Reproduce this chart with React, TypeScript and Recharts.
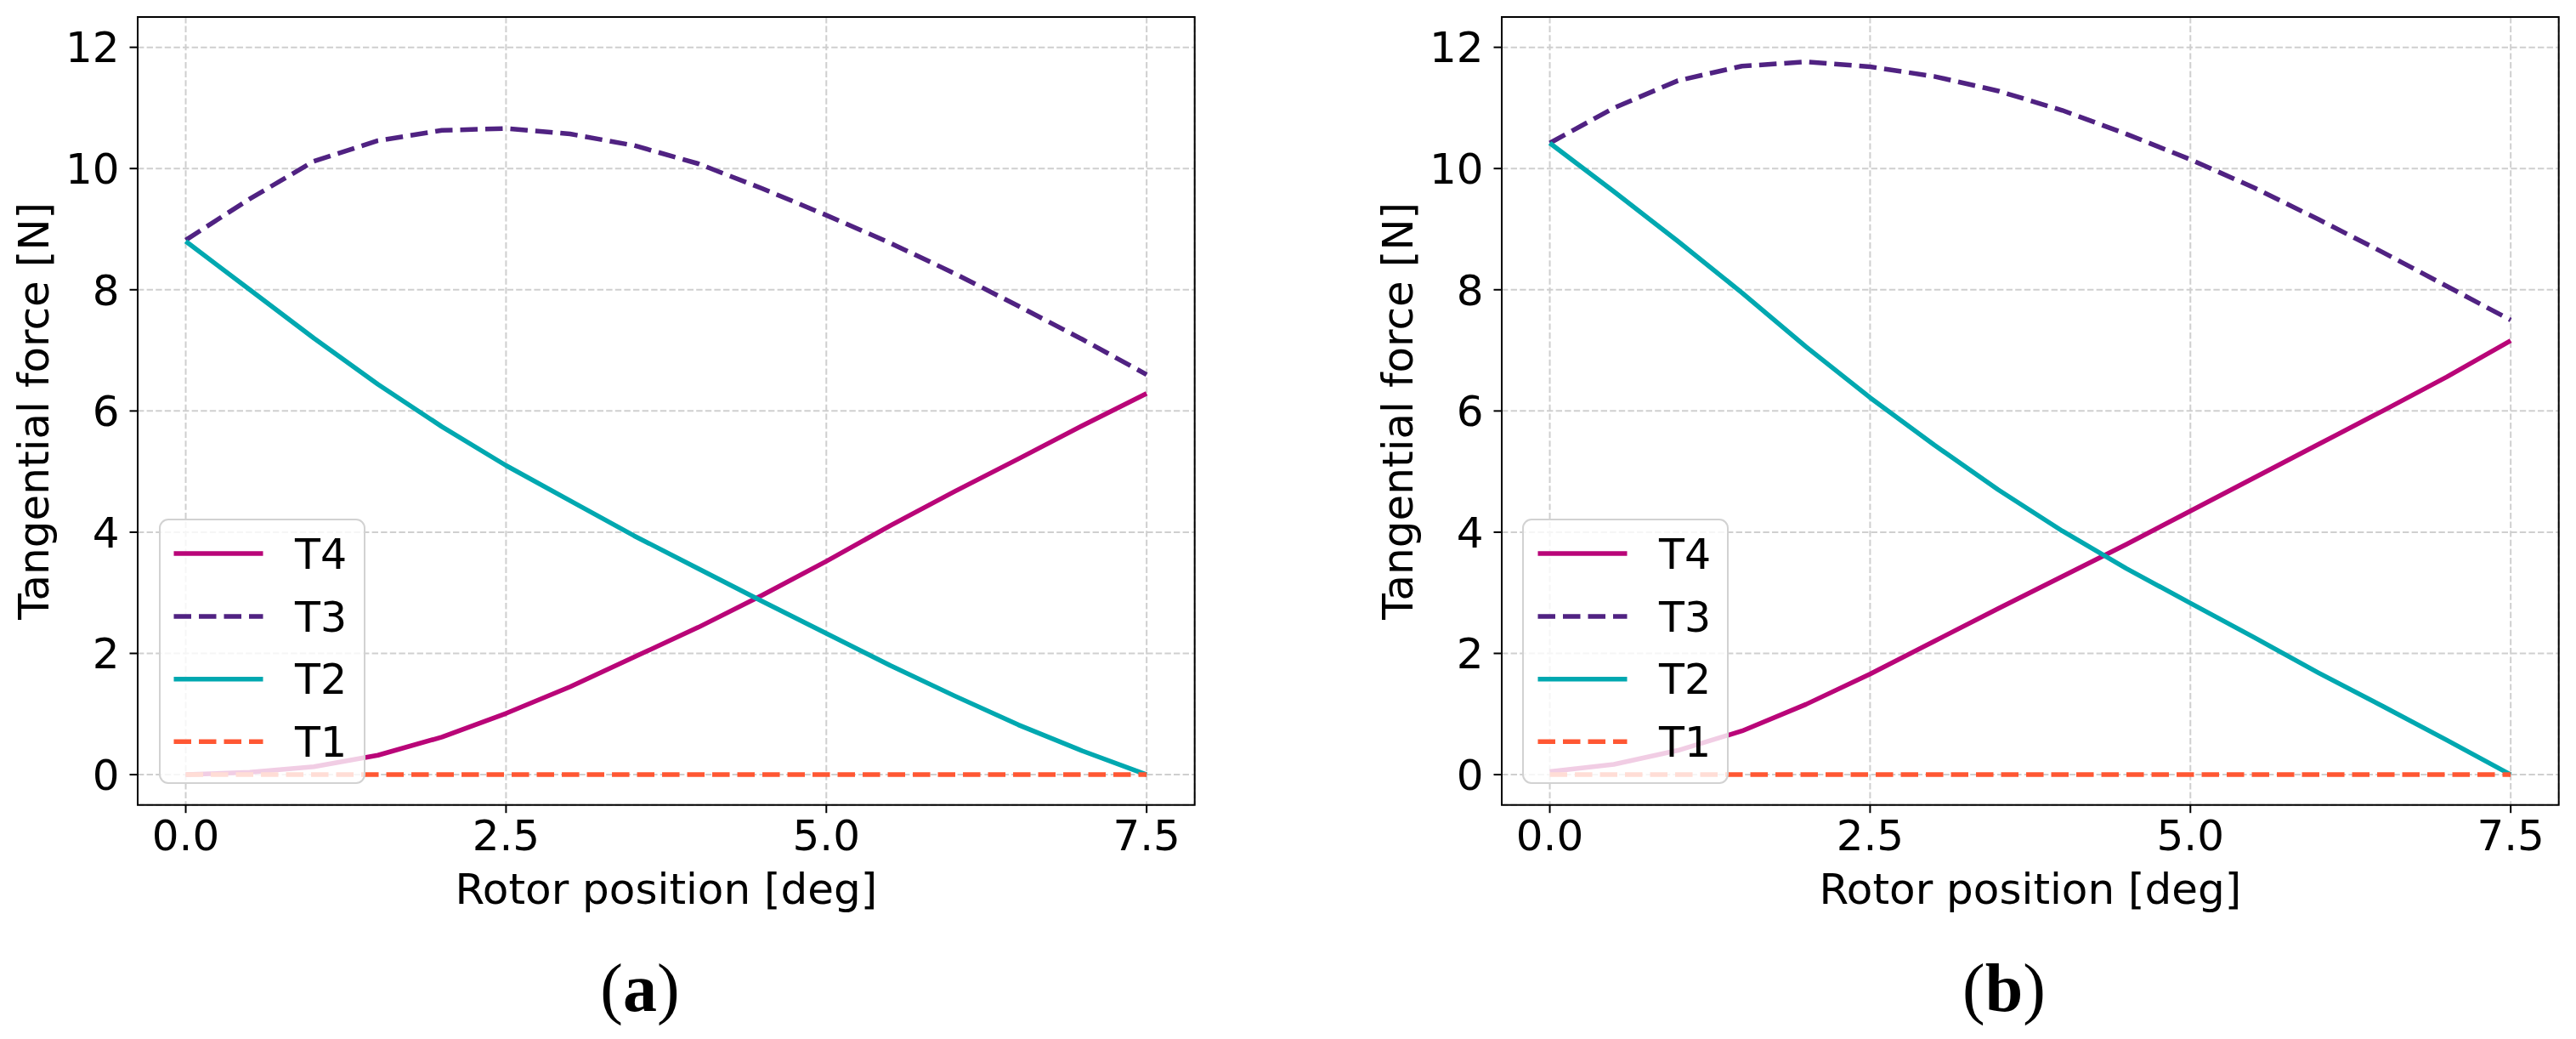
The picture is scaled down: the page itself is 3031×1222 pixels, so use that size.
import React from 'react';
import {
  LineChart,
  Line,
  XAxis,
  YAxis,
  CartesianGrid,
  Legend,
  ReferenceArea,
} from 'recharts';

// rotor position [deg]
const positions = [0, 0.5, 1, 1.5, 2, 2.5, 3, 3.5, 4, 4.5, 5, 5.5, 6, 6.5, 7, 7.5];

// panel (a)
const t4a = [0.0, 0.04, 0.13, 0.32, 0.62, 1.01, 1.45, 1.94, 2.43, 2.96, 3.52, 4.11, 4.67, 5.21, 5.76, 6.29];
const t3a = [8.82, 9.5, 10.12, 10.46, 10.63, 10.66, 10.57, 10.38, 10.08, 9.67, 9.23, 8.77, 8.27, 7.73, 7.18, 6.6];
const t2a = [8.8, 8.0, 7.2, 6.44, 5.74, 5.1, 4.52, 3.94, 3.4, 2.86, 2.33, 1.8, 1.3, 0.82, 0.39, 0.0];
const t1a = [0, 0, 0, 0, 0, 0, 0, 0, 0, 0, 0, 0, 0, 0, 0, 0];

// panel (b)
const t4b = [0.05, 0.17, 0.4, 0.72, 1.16, 1.66, 2.2, 2.74, 3.27, 3.8, 4.35, 4.9, 5.45, 6.0, 6.56, 7.16];
const t3b = [10.42, 11.0, 11.45, 11.69, 11.76, 11.68, 11.52, 11.28, 10.96, 10.57, 10.15, 9.68, 9.16, 8.62, 8.06, 7.5];
const t2b = [10.42, 9.62, 8.8, 7.95, 7.06, 6.22, 5.44, 4.7, 4.02, 3.4, 2.83, 2.26, 1.68, 1.13, 0.57, 0.0];
const t1b = [0, 0, 0, 0, 0, 0, 0, 0, 0, 0, 0, 0, 0, 0, 0, 0];

const xTicks = [0, 2.5, 5, 7.5];
const yTicks = [0, 2, 4, 6, 8, 10, 12];
const xDomain: [number, number] = [-0.375, 7.875];
const yDomain: [number, number] = [-0.5, 12.5];

const series = [
  { key: 'T4', color: '#b90578', dash: undefined },
  { key: 'T3', color: '#502282', dash: '20.5 9' },
  { key: 'T2', color: '#00a8b0', dash: undefined },
  { key: 'T1', color: '#ff5733', dash: '20.5 9' },
];

const FONT = '"DejaVu Sans", sans-serif';
const CHART_W = 1426;
const CHART_H = 1222;
const LW = 5.5;

function buildRows(t1: number[], t2: number[], t3: number[], t4: number[]) {
  return positions.map((pos, i) => ({ pos, T1: t1[i], T2: t2[i], T3: t3[i], T4: t4[i] }));
}

const rowsA = buildRows(t1a, t2a, t3a, t4a);
const rowsB = buildRows(t1b, t2b, t3b, t4b);

function LegendBox() {
  const rowY = [41, 115, 188.7, 262.3];
  return (
    <div
      style={{
        position: 'relative',
        width: 243,
        height: 312,
        boxSizing: 'border-box',
        border: '2.5px solid #d2d2d2',
        borderRadius: 11,
        background: 'rgba(255,255,255,0.8)',
      }}
    >
      <svg width={243} height={312} style={{ position: 'absolute', left: -2.5, top: -2.5 }}>
        {series.map((s, i) => (
          <g key={s.key}>
            <line
              x1={18.5}
              x2={123.5}
              y1={rowY[i]}
              y2={rowY[i]}
              stroke={s.color}
              strokeWidth={LW}
              strokeDasharray={s.dash}
            />
            <text x={161} y={rowY[i] + 17.5} fontSize={49} fontFamily={FONT} fill="#000">
              {s.key}
            </text>
          </g>
        ))}
      </svg>
    </div>
  );
}

function Panel({ rows, left }: { rows: any[]; left: number }) {
  return (
    <div style={{ position: 'absolute', left, top: 0 }}>
      <LineChart
        width={CHART_W}
        height={CHART_H}
        data={rows}
        margin={{ top: 20, right: 20.3, left: 0, bottom: 175.3 }}
      >
        <CartesianGrid stroke="#cfcfcf" strokeWidth={2} strokeDasharray="7.4 3.2" />
        <XAxis
          dataKey="pos"
          type="number"
          domain={xDomain}
          allowDataOverflow
          ticks={xTicks}
          interval={0}
          height={100}
          axisLine={false}
          tickSize={9.5}
          tickMargin={8}
          tickLine={{ stroke: '#000', strokeWidth: 2 }}
          tick={{ fontSize: 50, fill: '#000', fontFamily: FONT }}
          tickFormatter={(v: number) => v.toFixed(1)}
          label={{
            content: (props: any) => {
              const vb = props.viewBox;
              return (
                <text
                  x={vb.x + vb.width / 2}
                  y={vb.y + 116.3}
                  textAnchor="middle"
                  fontSize={50}
                  fontFamily={FONT}
                  fill="#000"
                >
                  Rotor position [deg]
                </text>
              );
            },
          }}
        />
        <YAxis
          type="number"
          domain={yDomain}
          allowDataOverflow
          ticks={yTicks}
          interval={0}
          width={162}
          axisLine={false}
          tickSize={9.5}
          tickMargin={12}
          tickLine={{ stroke: '#000', strokeWidth: 2 }}
          tick={{ fontSize: 50, fill: '#000', fontFamily: FONT }}
          label={{
            content: (props: any) => {
              const vb = props.viewBox;
              const cx = vb.x + 57;
              const cy = vb.y + vb.height / 2;
              return (
                <text
                  x={cx}
                  y={cy}
                  textAnchor="middle"
                  transform={`rotate(-90 ${cx} ${cy})`}
                  fontSize={50}
                  fontFamily={FONT}
                  fill="#000"
                >
                  Tangential force [N]
                </text>
              );
            },
          }}
        />
        {series.map((s) => (
          <Line
            key={s.key}
            type="linear"
            dataKey={s.key}
            stroke={s.color}
            strokeWidth={LW}
            strokeDasharray={s.dash}
            strokeLinejoin="round"
            dot={false}
            activeDot={false}
            isAnimationActive={false}
          />
        ))}
        <ReferenceArea
          x1={xDomain[0]}
          x2={xDomain[1]}
          y1={yDomain[0]}
          y2={yDomain[1]}
          fill="none"
          fillOpacity={0}
          stroke="#000"
          strokeWidth={2}
          ifOverflow="visible"
        />
        <Legend
          layout="horizontal"
          verticalAlign="middle"
          align="center"
          content={() => <LegendBox />}
          wrapperStyle={{ position: 'absolute', left: 186.7, top: 610, width: 243, height: 312 }}
        />
      </LineChart>
    </div>
  );
}

function Caption({ letter, cx }: { letter: string; cx: number }) {
  return (
    <div
      style={{
        position: 'absolute',
        left: cx - 100,
        width: 200,
        top: 1122,
        textAlign: 'center',
        fontFamily: '"Liberation Serif", serif',
        fontSize: 80,
        lineHeight: '80px',
        color: '#000',
      }}
    >
      (<b>{letter}</b>)
    </div>
  );
}

export default function App() {
  return (
    <div
      style={{
        position: 'absolute',
        left: 0,
        top: 0,
        width: 3031,
        height: 1222,
        overflow: 'hidden',
        background: '#fff',
      }}
    >
      <Panel rows={rowsA} left={0} />
      <Panel rows={rowsB} left={1604.7} />
      <Caption letter="a" cx={753} />
      <Caption letter="b" cx={2358} />
    </div>
  );
}
